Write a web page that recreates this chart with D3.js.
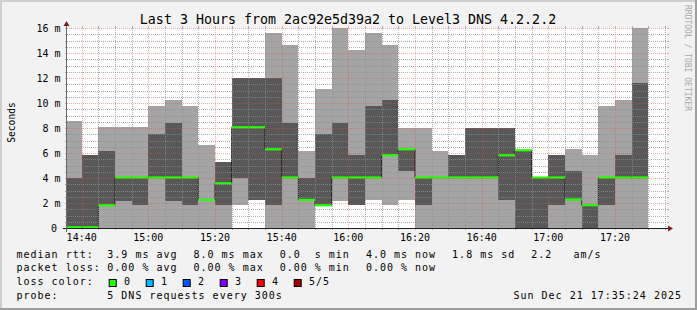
<!DOCTYPE html>
<html>
<head>
<meta charset="utf-8">
<script src="https://cdn.jsdelivr.net/npm/d3@7"></script>
<style>
  body { margin: 0; background: #f2f2f2; }
  svg { display: block; }
  text { font-family: "DejaVu Sans Mono", monospace; fill: #000; white-space: pre; }
</style>
</head>
<body>
<div id="chart"></div>
<script>
//* data, one entry per 5 minute step (start of the step)
var times = ["14:35","14:40","14:45","14:50","14:55","15:00","15:05","15:10","15:15","15:20",
             "15:25","15:30","15:35","15:40","15:45","15:50","15:55","16:00","16:05","16:10",
             "16:15","16:20","16:25","16:30","16:35","16:40","16:45","16:50","16:55","17:00",
             "17:05","17:10","17:15","17:20","17:25"]
// sorted pings in ms: min, 2nd, median, 4th, max
var pingMin  = [0,0,0,0,0,0,0,0,0,0, 1.81,2.27,0,0,0,1.81,2.19,1.81,2.27,1.81, 2.27,0,0,0,0,0,0,0,0,0, 0,0,0,0,0]
var pingLow  = [0,0,1.81,2.19,1.81,4.03,2.19,1.81,2.24,1.81, 4.03,2.27,1.81,4.03,2.24,1.81,4.03,1.81,4.03,5.81, 4.53,1.81,4.03,4.03,4.03,4.03,2.24,0,0,1.81, 2.27,0,1.81,4.03,4.03]
var median   = [0.05,0.05,1.81,4.03,4.03,4.03,4.03,4.03,2.24,3.57, 8.05,8.05,6.29,4.03,2.24,1.81,4.03,4.03,4.03,5.81, 6.29,4.03,4.03,4.03,4.03,4.03,5.81,6.21,4.03,4.03, 2.27,1.81,4.03,4.03,4.03]
var pingHigh = [4.03,5.81,6.19,4.03,4.03,7.55,8.43,4.03,2.24,5.31, 12.03,12.03,12.03,8.43,4.03,7.55,8.43,5.81,9.79,10.21, 6.29,4.03,4.03,5.81,8.0,8.0,8.0,6.21,4.03,5.81, 4.53,1.81,4.03,5.81,11.57]
var pingMax  = [8.53,5.81,8.05,8.05,8.05,9.76,10.21,9.76,6.67,5.31, 12.03,12.03,15.57,14.67,6.19,11.09,16.0,14.24,15.57,14.67, 8.0,8.0,6.19,5.81,8.0,8.0,8.0,6.21,4.03,5.81, 6.29,5.81,9.79,10.21,16.0]

var xLabels = ["14:40","15:00","15:20","15:40","16:00","16:20","16:40","17:00","17:20"]
var yLabels = [0,2,4,6,8,10,12,14,16]

var title = "Last 3 Hours from 2ac92e5d39a2 to Level3 DNS 4.2.2.2"
var legendRtt  = ["median rtt:", "3.9 ms avg", "8.0 ms max", "0.0  s min", "4.0 ms now", "1.8 ms sd", "2.2   am/s"]
var legendLoss = ["packet loss:", "0.00 % avg", "0.00 % max", "0.00 % min", "0.00 % now"]
var lossNames  = ["0","1","2","3","4","5/5"]
var lossColors = ["#26ff00","#00b8ff","#0059ff","#7e00ff","#ff0000","#a10000"]
var probeText  = "5 DNS requests every 300s"
var stamp      = "Sun Dec 21 17:35:24 2025"

//* dimensions
var W = 697, H = 310
var X0 = 67, X1 = 667, Y0 = 228, Y1 = 28

function hm(s) { var p = s.split(":"); return new Date(2025, 11, 21, +p[0], +p[1]) }
var start = new Date(2025, 11, 21, 14, 35, 36)
var end = d3.timeHour.offset(start, 3)

var x = d3.scaleTime().domain([start, end]).range([X0, X1])
var y = d3.scaleLinear().domain([0, 16]).range([Y0, Y1])

var rows = times.map(function (t, i) {
  return { t0: hm(t), t1: d3.timeMinute.offset(hm(t), 5),
           lo: pingMin[i], q1: pingLow[i], med: median[i], q3: pingHigh[i], hi: pingMax[i] }
})

var svg = d3.select("#chart").append("svg").attr("width", W).attr("height", H)
  .attr("xml:space", "preserve")

// background + frame
svg.append("rect").attr("width", W).attr("height", H).attr("fill", "#f2f2f2")
svg.append("rect").attr("x", 0).attr("y", 0).attr("width", W).attr("height", 2).attr("fill", "#cfcfcf")
svg.append("rect").attr("x", 0).attr("y", 0).attr("width", 2).attr("height", H).attr("fill", "#cfcfcf")
svg.append("rect").attr("x", 0).attr("y", H - 2).attr("width", W).attr("height", 2).attr("fill", "#9e9e9e")
svg.append("rect").attr("x", W - 2).attr("y", 0).attr("width", 2).attr("height", H).attr("fill", "#9e9e9e")

// canvas
svg.append("rect").attr("x", X0).attr("y", Y1).attr("width", X1 - X0).attr("height", Y0 - Y1).attr("fill", "#fff")

svg.append("clipPath").attr("id", "plotclip")
  .append("rect").attr("x", X0).attr("y", Y1).attr("width", X1 - X0).attr("height", Y0 - Y1)

var plot = svg.append("g").attr("clip-path", "url(#plotclip)")

// smoke: outer band min..max, inner band 2nd..4th
plot.selectAll("rect.outer").data(rows).enter().append("rect")
  .attr("class", "outer")
  .attr("x", function (d) { return x(d.t0) })
  .attr("width", function (d) { return x(d.t1) - x(d.t0) })
  .attr("y", function (d) { return y(d.hi) })
  .attr("height", function (d) { return y(d.lo) - y(d.hi) })
  .attr("fill", "#a4a4a4")
  .attr("shape-rendering", "crispEdges")

plot.selectAll("rect.inner").data(rows).enter().append("rect")
  .attr("class", "inner")
  .attr("x", function (d) { return x(d.t0) })
  .attr("width", function (d) { return x(d.t1) - x(d.t0) })
  .attr("y", function (d) { return y(d.q3) })
  .attr("height", function (d) { return y(d.q1) - y(d.q3) })
  .attr("fill", "#585858")
  .attr("shape-rendering", "crispEdges")

// median step line + loss coloured bars
var pts = rows.map(function (d) { return [x(d.t0), y(d.med)] })
pts.push([x(rows[rows.length - 1].t1), y(rows[rows.length - 1].med)])
plot.append("path")
  .attr("d", d3.line().curve(d3.curveStepAfter)(pts))
  .attr("fill", "none").attr("stroke", "#202020").attr("stroke-width", 1)

plot.selectAll("rect.med").data(rows).enter().append("rect")
  .attr("class", "med")
  .attr("x", function (d) { return x(d.t0) })
  .attr("width", function (d) { return x(d.t1) - x(d.t0) })
  .attr("y", function (d) { return y(d.med) - 1.2 })
  .attr("height", 2.2)
  .attr("fill", lossColors[0])

//* grid
var gridMinor = "rgba(143,143,143,0.7)", gridMajor = "rgba(222,79,79,0.45)"
function px(v) { return Math.round(v) + 0.5 }

var yMinor = d3.range(0, 16.001, 0.5).filter(function (v) { return v % 2 !== 0 })
var yMajor = yLabels
var tMinor = d3.timeMinute.every(5).range(start, end).filter(function (t) { return t.getMinutes() % 20 !== 0 })
var tMajor = xLabels.map(hm)

var grid = svg.append("g")
function hLines(vals, col, dash) {
  vals.forEach(function (v) {
    var yy = px(y(v))
    grid.append("line").attr("x1", X0).attr("x2", X1).attr("y1", yy).attr("y2", yy)
      .attr("stroke", col).attr("stroke-dasharray", dash)
    grid.append("line").attr("x1", X0 - 2).attr("x2", X0).attr("y1", yy).attr("y2", yy).attr("stroke", col)
    grid.append("line").attr("x1", X1).attr("x2", X1 + 2).attr("y1", yy).attr("y2", yy).attr("stroke", col)
  })
}
function vLines(vals, col, dash) {
  vals.forEach(function (t) {
    var xx = px(x(t))
    grid.append("line").attr("x1", xx).attr("x2", xx).attr("y1", Y1).attr("y2", Y0)
      .attr("stroke", col).attr("stroke-dasharray", dash)
    grid.append("line").attr("x1", xx).attr("x2", xx).attr("y1", Y0).attr("y2", Y0 + 2).attr("stroke", col)
    grid.append("line").attr("x1", xx).attr("x2", xx).attr("y1", Y1 - 2).attr("y2", Y1).attr("stroke", col)
  })
}
hLines(yMinor, gridMinor, "1,1")
vLines(tMinor, gridMinor, "1,1")
hLines(yMajor.filter(function (v) { return v > 0 }), gridMajor, "1,1")
vLines(tMajor, gridMajor, "1,1")

//* axes with arrows
svg.append("line").attr("x1", X0 - 4).attr("x2", X1 + 2).attr("y1", Y0 + 0.5).attr("y2", Y0 + 0.5)
  .attr("stroke", "#1f1f1f")
svg.append("line").attr("x1", X0 - 0.5).attr("x2", X0 - 0.5).attr("y1", Y0 + 4).attr("y2", Y1 - 4)
  .attr("stroke", "#6a6a6a")
svg.append("path").attr("d", "M" + (X1 + 1) + "," + (Y0 - 2.5) + "L" + (X1 + 6) + "," + (Y0 + 0.5) + "L" + (X1 + 1) + "," + (Y0 + 3.5) + "Z")
  .attr("fill", "#801f1f")
svg.append("path").attr("d", "M" + (X0 - 3.5) + "," + (Y1 - 2) + "L" + (X0 - 0.5) + "," + (Y1 - 7) + "L" + (X0 + 2.5) + "," + (Y1 - 2) + "Z")
  .attr("fill", "#801f1f")

//* labels
svg.selectAll("text.ylab").data(yLabels).enter().append("text")
  .attr("class", "ylab")
  .attr("x", function (d) { return d === 0 ? 57 : 60.5 })
  .attr("y", function (d) { return y(d) + 3.5 })
  .attr("text-anchor", "end")
  .attr("font-size", "10px")
  .text(function (d) { return d === 0 ? "0" : d + " m" })

svg.selectAll("text.xlab").data(xLabels).enter().append("text")
  .attr("class", "xlab")
  .attr("x", function (d) { return x(hm(d)) })
  .attr("y", Y0 + 12.7)
  .attr("text-anchor", "middle")
  .attr("font-size", "10px")
  .text(function (d) { return d })

svg.append("text").attr("x", 348).attr("y", 23.5).attr("text-anchor", "middle")
  .attr("font-size", "13.3px").text(title)

svg.append("text").attr("transform", "translate(15,122.5) rotate(-90)").attr("text-anchor", "middle")
  .attr("font-size", "9.6px").text("Seconds")

svg.append("text").attr("transform", "translate(685,5) rotate(90)")
  .attr("font-size", "8px").style("fill", "#a8a8a8").text("RRDTOOL / TOBI OETIKER")

//* legend
var legend = svg.append("g").attr("font-size", "10px").attr("letter-spacing", "1px")
var cw = 7.02, gap = 16
function legendLine(pieces, yy) {
  legend.append("text").attr("x", 16.5).attr("y", yy).text(pieces[0])
  var xx = 107.3
  pieces.slice(1).forEach(function (p) {
    legend.append("text").attr("x", xx).attr("y", yy).text(p)
    xx += p.length * cw + gap
  })
}
legendLine(legendRtt, 257.5)
legendLine(legendLoss, 271.3)

legend.append("text").attr("x", 16.5).attr("y", 285.1).text("loss color:")
lossNames.forEach(function (n, i) {
  var bx = 108.7 + 37 * i
  legend.append("rect").attr("x", bx + 0.5).attr("y", 279.5).attr("width", 7).attr("height", 7)
    .attr("fill", lossColors[i]).attr("stroke", "#000").attr("stroke-width", 1)
  legend.append("text").attr("x", bx + 15.3).attr("y", 285.1).text(n)
})

legend.append("text").attr("x", 16.5).attr("y", 298.9).text("probe:")
legend.append("text").attr("x", 107.3).attr("y", 298.9).text(probeText)
legend.append("text").attr("x", 682).attr("y", 298.9).attr("text-anchor", "end").text(stamp)
</script>
</body>
</html>
